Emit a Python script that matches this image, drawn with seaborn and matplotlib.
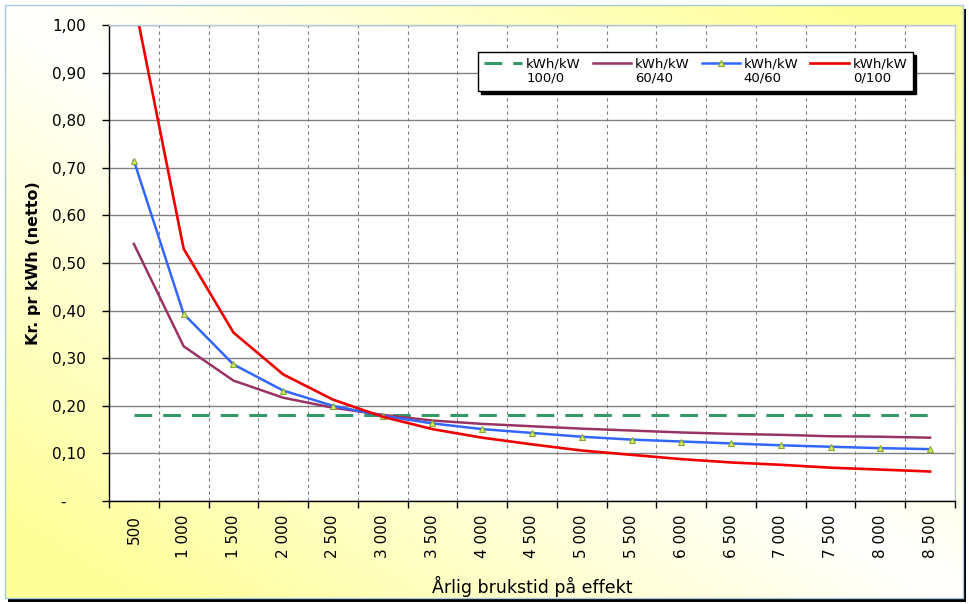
import matplotlib
matplotlib.use('Agg')

import numpy as np
import matplotlib.pyplot as plt
from matplotlib.lines import Line2D
from matplotlib.patches import Rectangle
import seaborn as sns


# ---------------------------------------------------
# Data
# ---------------------------------------------------

hours = [500, 1000, 1500, 2000, 2500, 3000, 3500, 4000, 4500,
         5000, 5500, 6000, 6500, 7000, 7500, 8000, 8500]

hour_labels = ['500', '1 000', '1 500', '2 000', '2 500', '3 000',
               '3 500', '4 000', '4 500', '5 000', '5 500', '6 000',
               '6 500', '7 000', '7 500', '8 000', '8 500']

y_ticks = [0.0, 0.1, 0.2, 0.3, 0.4, 0.5, 0.6, 0.7, 0.8, 0.9, 1.0]
y_tick_labels = ['-    ', '0,10', '0,20', '0,30', '0,40', '0,50',
                 '0,60', '0,70', '0,80', '0,90', '1,00']

kwh_100_0 = [0.18, 0.18, 0.18, 0.18, 0.18, 0.18, 0.18, 0.18, 0.18,
             0.18, 0.18, 0.18, 0.18, 0.18, 0.18, 0.18, 0.18]
kwh_60_40 = [0.540, 0.325, 0.253, 0.217, 0.196, 0.181, 0.169, 0.162, 0.157,
             0.152, 0.148, 0.144, 0.141, 0.139, 0.136, 0.135, 0.133]
kwh_40_60 = [0.715, 0.393, 0.287, 0.232, 0.200, 0.179, 0.163, 0.151, 0.143,
             0.135, 0.129, 0.125, 0.121, 0.117, 0.114, 0.111, 0.109]
kwh_0_100 = [1.054, 0.530, 0.354, 0.266, 0.213, 0.177, 0.151, 0.133, 0.119,
             0.106, 0.097, 0.088, 0.081, 0.076, 0.070, 0.066, 0.062]

unit_label = 'kWh/kW'
ratio_labels = ['100/0', '60/40', '40/60', '0/100']

plt.rcParams['font.family'] = ['DejaVu Sans']

W, H = 970, 604
fig = plt.figure(figsize=(W / 100, H / 100), dpi=100)
fig.patch.set_facecolor('white')

# ---------------------------------------------------
# Chart area: diagonal white/yellow gradient, border, shadow
# ---------------------------------------------------

fig.patches.append(Rectangle((8 / W, 1 - 602 / H), 958 / W, 593 / H,
                             transform=fig.transFigure, facecolor='black',
                             edgecolor='none', zorder=-12))

bg = fig.add_axes([5 / W, 1 - 598 / H, 958 / W, 593 / H], zorder=-10)
u = np.linspace(0, 1, 480)[None, :]
v = np.linspace(0, 1, 300)[:, None]
t = np.clip(np.abs(u - v) * 1.15, 0, 1)[..., None]
white = np.array([1.0, 1.0, 1.0])
yellow = np.array([1.0, 1.0, 0.6])
bg.imshow(white * (1 - t) + yellow * t, aspect='auto', extent=[0, 1, 1, 0])
bg.set_xlim(0, 1)
bg.set_ylim(1, 0)
bg.axis('off')

fig.patches.append(Rectangle((5 / W, 1 - 598 / H), 958 / W, 593 / H,
                             transform=fig.transFigure, fill=False,
                             edgecolor='#A9C8E0', lw=1, zorder=-9))

# ---------------------------------------------------
# Plot area
# ---------------------------------------------------

ax = fig.add_axes([109 / W, 1 - 501 / H, 846 / W, 476 / H])
ax.set_facecolor('white')

sns.lineplot(x=hours, y=kwh_100_0, ax=ax, color='#339966', lw=2.2,
             ls=(0, (5.8, 3.6)))
sns.lineplot(x=hours, y=kwh_60_40, ax=ax, color='#993366', lw=1.8)
sns.lineplot(x=hours, y=kwh_40_60, ax=ax, color='#3366FF', lw=1.8,
             marker='^', markersize=5, markerfacecolor='#D4EE6A',
             markeredgecolor='#88A830', markeredgewidth=0.8)
sns.lineplot(x=hours, y=kwh_0_100, ax=ax, color='#EE0000', lw=1.9)

ax.set_xlim(250, 8750)
ax.set_ylim(0, 1)

ax.set_xticks(hours)
ax.set_xticklabels(hour_labels, rotation=90, fontsize=11)
ax.set_xticks([h - 250 for h in hours] + [8750], minor=True)
ax.tick_params(axis='x', which='major', length=0, pad=10)
ax.tick_params(axis='x', which='minor', length=5, width=1, color='black')

ax.set_yticks(y_ticks)
ax.set_yticklabels(y_tick_labels, fontsize=11)
ax.tick_params(axis='y', length=5, width=1, color='black', pad=11.5)

ax.set_axisbelow(True)
ax.grid(axis='y', which='major', color='#808080', lw=1, ls='-')
ax.grid(axis='x', which='minor', color='#808080', lw=0.8, ls=(0, (3, 3)))
ax.grid(axis='x', which='major', visible=False)

for side in ['left', 'bottom']:
    ax.spines[side].set_color('black')
    ax.spines[side].set_linewidth(1)
for side in ['top', 'right']:
    ax.spines[side].set_color('#B8C8D8')
    ax.spines[side].set_linewidth(1)

ax.set_xlabel('Årlig brukstid på effekt', fontsize=12.5)
ax.xaxis.set_label_coords(0.5, (501 - 576) / 476)
ax.set_ylabel('Kr. pr kWh (netto)', fontsize=11.5, fontweight='bold')
ax.yaxis.set_label_coords((41 - 109) / 846, 0.5)

# ---------------------------------------------------
# Legend: unit on the first row next to the line, ratio below it
# ---------------------------------------------------

handles, labels = [], []
for line, ratio in zip(ax.get_lines()[:4], ratio_labels):
    handles += [line, Line2D([], [], color='none')]
    labels += [unit_label, ratio]

leg = ax.legend(handles, labels, loc='upper left',
                bbox_to_anchor=(478 / W, 1 - 52 / H),
                bbox_transform=fig.transFigure, ncol=4, fontsize=9.5,
                frameon=True, fancybox=False,
                shadow={'color': 'black', 'alpha': 1},
                borderaxespad=0, borderpad=0.45, labelspacing=0.08,
                handlelength=2.9, handletextpad=0.3, columnspacing=0.9)
leg.get_frame().set_edgecolor('black')
leg.get_frame().set_linewidth(1)
leg.get_frame().set_facecolor('white')

fig.savefig('out.png', dpi=100)
plt.close()
